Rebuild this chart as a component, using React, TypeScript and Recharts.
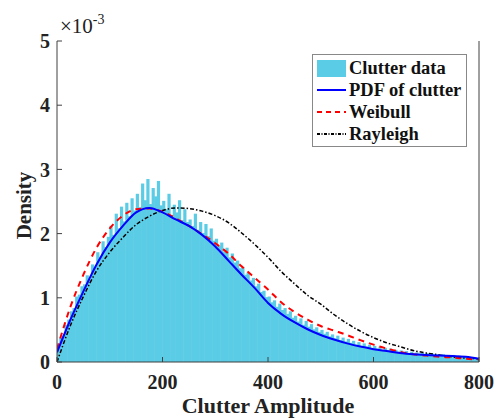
import { ComposedChart, Bar, Line, XAxis, YAxis, Label } from 'recharts';

// histogram of clutter amplitude, bin width 5, values in units of 1e-3
const BIN_WIDTH = 5;
const histValues = [
  0.22, 0.38, 0.41, 0.58, 0.66, 0.79, 0.84, 1.02, 1.05, 1.18,
  1.21, 1.35, 1.29, 1.52, 1.48, 1.71, 1.63, 1.88, 1.79, 1.95,
  2.12, 1.98, 2.31, 2.08, 2.42, 2.19, 2.48, 2.27, 2.55, 2.36,
  2.62, 2.41, 2.78, 2.52, 2.85, 2.46, 2.71, 2.58, 2.82, 2.44,
  2.51, 2.38, 2.62, 2.29, 2.45, 2.33, 2.52, 2.21, 2.38, 2.18,
  2.22, 2.12, 2.31, 2.06, 2.18, 2.01, 2.15, 1.96, 2.08, 1.89,
  1.92, 1.81, 1.86, 1.72, 1.78, 1.63, 1.69, 1.55, 1.58, 1.46,
  1.48, 1.36, 1.39, 1.27, 1.31, 1.18, 1.22, 1.09, 1.11, 1.01,
  1.02, 0.93, 0.96, 0.86, 0.91, 0.81, 0.84, 0.75, 0.79, 0.69,
  0.72, 0.63, 0.68, 0.58, 0.64, 0.55, 0.59, 0.51, 0.54, 0.47,
  0.50, 0.44, 0.47, 0.40, 0.43, 0.37, 0.41, 0.34, 0.38, 0.32,
  0.36, 0.30, 0.33, 0.27, 0.31, 0.25, 0.29, 0.24, 0.27, 0.22,
  0.25, 0.21, 0.24, 0.19, 0.22, 0.18, 0.21, 0.17, 0.19, 0.16,
  0.18, 0.15, 0.17, 0.13, 0.16, 0.12, 0.15, 0.13, 0.14, 0.12,
  0.14, 0.11, 0.13, 0.10, 0.12, 0.10, 0.12, 0.09, 0.11, 0.10,
  0.11, 0.09, 0.10, 0.08, 0.09, 0.07, 0.08, 0.07, 0.07, 0.06
];

// fitted curves sampled every 25 units
const curveX = [
  0, 25, 50, 75, 100, 125, 150, 175, 200, 225, 250, 275, 300, 325, 350, 375, 400,
  425, 450, 475, 500, 525, 550, 575, 600, 625, 650, 675, 700, 725, 750, 775, 800
];
const pdfY = [
  0.15, 0.65, 1.1, 1.52, 1.86, 2.12, 2.33, 2.4, 2.33, 2.22, 2.12, 1.98, 1.8, 1.58, 1.36, 1.15, 0.92,
  0.75, 0.62, 0.51, 0.42, 0.35, 0.29, 0.24, 0.2, 0.17, 0.14, 0.12, 0.11, 0.1, 0.095, 0.08, 0.05
];
const weibullY = [
  0.2, 0.85, 1.36, 1.78, 2.08, 2.28, 2.38, 2.39, 2.34, 2.24, 2.12, 1.99, 1.85, 1.69, 1.49, 1.31, 1.13,
  0.93, 0.78, 0.66, 0.56, 0.49, 0.42, 0.34, 0.27, 0.21, 0.16, 0.12, 0.1, 0.08, 0.07, 0.05, 0.04
];
const rayleighY = [
  0, 0.56, 1.02, 1.42, 1.71, 1.94, 2.14, 2.27, 2.36, 2.4, 2.39, 2.35, 2.28, 2.17, 2.01, 1.83, 1.63,
  1.41, 1.22, 1.04, 0.9, 0.74, 0.6, 0.48, 0.38, 0.3, 0.24, 0.18, 0.14, 0.11, 0.08, 0.06, 0.05
];

const xTicks = [0, 200, 400, 600, 800];
const yTicks = [0, 1, 2, 3, 4, 5];

const histData = histValues.map((v, i) => ({ x: i * BIN_WIDTH + BIN_WIDTH / 2, hist: v }));
const pdfData = curveX.map((x, i) => ({ x, y: pdfY[i] }));
const weibullData = curveX.map((x, i) => ({ x, y: weibullY[i] }));
const rayleighData = curveX.map((x, i) => ({ x, y: rayleighY[i] }));

const FONT = '"Liberation Serif", "Times New Roman", serif';
const AXIS = '#404040';
const HIST = '#5BCCE5';

const tickStyle = { fontFamily: FONT, fontWeight: 700, fontSize: 20, fill: '#222' };

// each bar is drawn a little wider than its bin so neighbours touch
const HistBar = (props: any) => {
  const { x, y, width, height } = props;
  if (!height || height <= 0) return null;
  const cx = x + width / 2;
  const w = 3.2;
  return <rect x={cx - w / 2} y={y} width={w} height={height} fill={HIST} />;
};

const DensityLabel = ({ viewBox }: any) => {
  const cx = 24;
  const cy = viewBox.y + viewBox.height / 2 + 4;
  return (
    <text
      x={cx}
      y={cy}
      transform={`rotate(-90 ${cx} ${cy})`}
      textAnchor='middle'
      dominantBaseline='central'
      style={{ fontFamily: FONT, fontWeight: 700, fontSize: 21, fill: '#222' }}
    >
      Density
    </text>
  );
};

const legendItems = [
  { name: 'Clutter data', kind: 'patch' },
  { name: 'PDF of clutter', kind: 'line', color: '#0000ff', dash: undefined },
  { name: 'Weibull', kind: 'line', color: '#ff0000', dash: '5 4' },
  { name: 'Rayleigh', kind: 'line', color: '#000000', dash: '3 1.5 1 1.5' }
];

const LegendBox = () => (
  <div
    style={{
      position: 'absolute',
      left: 312,
      top: 54,
      width: 153,
      height: 91,
      border: '1px solid #888',
      background: '#fff',
      fontFamily: FONT,
      fontWeight: 700,
      fontSize: 18.5,
      color: '#111'
    }}
  >
    {legendItems.map((it, i) => (
      <div
        key={it.name}
        style={{ position: 'absolute', left: 3, top: 2 + i * 22, height: 22, display: 'flex', alignItems: 'center' }}
      >
        <svg width={32} height={20} style={{ display: 'block' }}>
          {it.kind === 'patch' ? (
            <rect x={1} y={2} width={29} height={17} fill={HIST} />
          ) : (
            <line x1={1} x2={30} y1={10} y2={10} stroke={it.color} strokeWidth={2} strokeDasharray={it.dash} />
          )}
        </svg>
        <span style={{ marginLeft: 1, whiteSpace: 'nowrap' }}>{it.name}</span>
      </div>
    ))}
  </div>
);

const App = () => (
  <div
    style={{
      position: 'absolute',
      left: 0,
      top: 0,
      width: 494,
      height: 418,
      background: '#fff',
      fontFamily: FONT,
      fontWeight: 700
    }}
  >
    <ComposedChart
      width={494}
      height={418}
      data={histData}
      margin={{ top: 41, right: 14, left: 0, bottom: 0 }}
      barCategoryGap={0}
      barGap={0}
      style={{ fontFamily: FONT }}
    >
      <XAxis
        xAxisId='b'
        dataKey='x'
        type='number'
        domain={[0, 800]}
        ticks={xTicks}
        allowDataOverflow
        height={56}
        stroke={AXIS}
        tickSize={-5}
        tickMargin={18}
        tick={tickStyle}
      >
        <Label
          value='Clutter Amplitude'
          position='insideBottom'
          offset={5}
          style={{ fontFamily: FONT, fontWeight: 700, fontSize: 22, fill: '#222' }}
        />
      </XAxis>
      <XAxis
        xAxisId='t'
        dataKey='x'
        type='number'
        orientation='top'
        domain={[0, 800]}
        ticks={xTicks}
        height={0}
        stroke={AXIS}
        tickSize={-5}
        tick={false}
      />
      <YAxis
        yAxisId='l'
        domain={[0, 5]}
        ticks={yTicks}
        width={57}
        stroke={AXIS}
        tickSize={-5}
        tickMargin={12}
        tick={tickStyle}
      >
        <Label content={<DensityLabel />} />
      </YAxis>
      <YAxis
        yAxisId='r'
        orientation='right'
        domain={[0, 5]}
        ticks={yTicks}
        width={1}
        stroke={AXIS}
        tickSize={-5}
        tick={false}
      />
      <Bar
        xAxisId='b'
        yAxisId='l'
        dataKey='hist'
        fill={HIST}
        barSize={2}
        shape={<HistBar />}
        isAnimationActive={false}
      />
      <Line
        xAxisId='b'
        yAxisId='l'
        data={rayleighData}
        dataKey='y'
        type='monotone'
        stroke='#000'
        strokeWidth={1.5}
        strokeDasharray='4 2 1.5 2'
        dot={false}
        isAnimationActive={false}
      />
      <Line
        xAxisId='b'
        yAxisId='l'
        data={weibullData}
        dataKey='y'
        type='monotone'
        stroke='#ff0000'
        strokeWidth={2}
        strokeDasharray='6 5'
        dot={false}
        isAnimationActive={false}
      />
      <Line
        xAxisId='b'
        yAxisId='l'
        data={pdfData}
        dataKey='y'
        type='monotone'
        stroke='#0000ff'
        strokeWidth={2}
        dot={false}
        isAnimationActive={false}
      />
    </ComposedChart>
    <div
      style={{
        position: 'absolute',
        left: 60,
        top: 13,
        fontFamily: FONT,
        fontWeight: 400,
        fontSize: 21,
        color: '#222'
      }}
    >
      ×10<sup style={{ fontSize: 14, position: 'relative', top: -1 }}>-3</sup>
    </div>
    <LegendBox />
  </div>
);

export default App;
